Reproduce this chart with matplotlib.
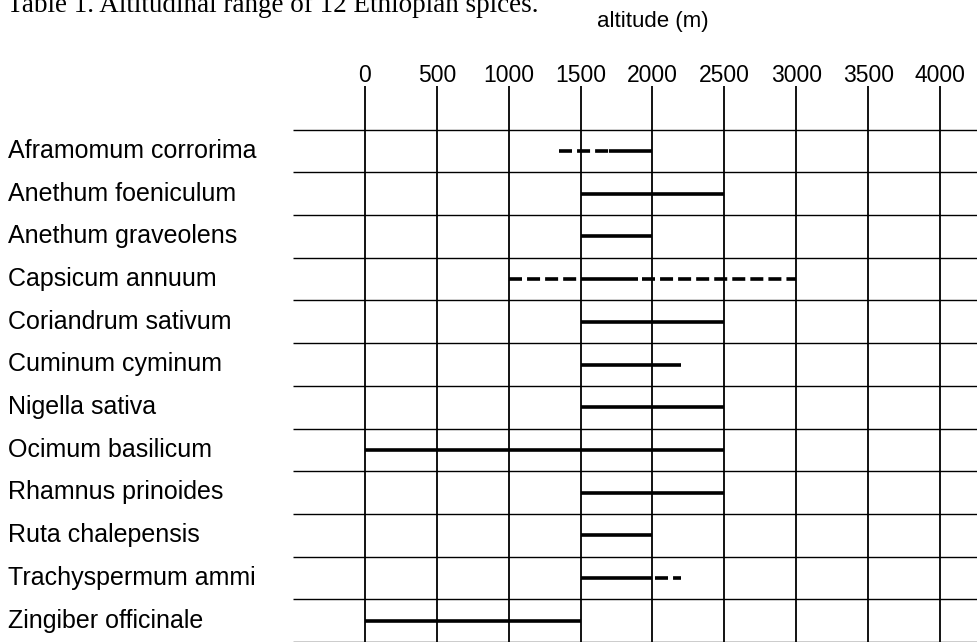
import matplotlib
matplotlib.use('Agg')
import matplotlib.pyplot as plt

# table data
species = ['Aframomum corrorima', 'Anethum foeniculum', 'Anethum graveolens',
           'Capsicum annuum', 'Coriandrum sativum', 'Cuminum cyminum',
           'Nigella sativa', 'Ocimum basilicum', 'Rhamnus prinoides',
           'Ruta chalepensis', 'Trachyspermum ammi', 'Zingiber officinale']

solid_low = [1700, 1500, 1500, 1500, 1500, 1500, 1500, 0, 1500, 1500, 1500, 0]
solid_high = [2000, 2500, 2000, 1900, 2500, 2200, 2500, 2500, 2500, 2000, 2000, 1500]

# uncertain parts of the range (drawn dashed): species index, low, high
dashed_rows = [0, 3, 3, 10]
dashed_low = [1350, 1000, 1930, 2020]
dashed_high = [1700, 1500, 3000, 2200]

alt_ticks = [0, 500, 1000, 1500, 2000, 2500, 3000, 3500, 4000]

# figure: pixel layout of the scanned table
W, H = 978, 642
fig = plt.figure(figsize=(W / 100, H / 100), dpi=100)
ax = fig.add_axes([0, 0, 1, 1])
ax.axis('off')

x0_px = 365.0            # pixel of altitude 0
px_per_m = 575.0 / 4000  # 0 -> 4000 spans 575 px
row0_px = 151.0          # pixel of first row
row_px = 42.7            # row spacing

ax.set_xlim(-x0_px / px_per_m, (W - x0_px) / px_per_m)
ax.set_ylim((H - row0_px) / row_px, -row0_px / row_px)


def ypx(p):
    return (p - row0_px) / row_px


def xpx(p):
    return (p - x0_px) / px_per_m


n = len(species)
x_right = (W - x0_px) / px_per_m

# grid
for k in range(n + 1):
    ax.plot([xpx(293), x_right], [k - 0.5, k - 0.5], color='black', lw=1.0,
            solid_capstyle='butt')
for t in alt_ticks:
    ax.plot([t, t], [ypx(86), n - 0.5], color='black', lw=1.3,
            solid_capstyle='butt')
    ax.text(t, ypx(82), str(t), ha='center', va='baseline', fontsize=16.5,
            family=['Liberation Sans Narrow', 'Liberation Sans', 'DejaVu Sans'])

# ranges
for i in range(n):
    ax.plot([solid_low[i], solid_high[i]], [i, i], color='black', lw=2.6,
            solid_capstyle='butt')
    ax.text(xpx(8), i + 0.16, species[i], ha='left', va='baseline',
            fontsize=18, family=['Liberation Sans', 'DejaVu Sans'])

for r, lo, hi in zip(dashed_rows, dashed_low, dashed_high):
    ax.plot([lo, hi], [r, r], color='black', lw=2.6, dashes=(3.6, 1.4),
            dash_capstyle='butt')

ax.text(2000, ypx(27), 'altitude (m)', ha='center', va='baseline',
        fontsize=16, family=['Liberation Sans', 'DejaVu Sans'])

fig.text(7 / W, 1 - 12 / H, 'Table 1. Altitudinal range of 12 Ethiopian spices.',
         ha='left', va='baseline', fontsize=19.5,
         family=['Liberation Serif', 'DejaVu Serif'])

fig.savefig('out.png', dpi=100, facecolor='white')
